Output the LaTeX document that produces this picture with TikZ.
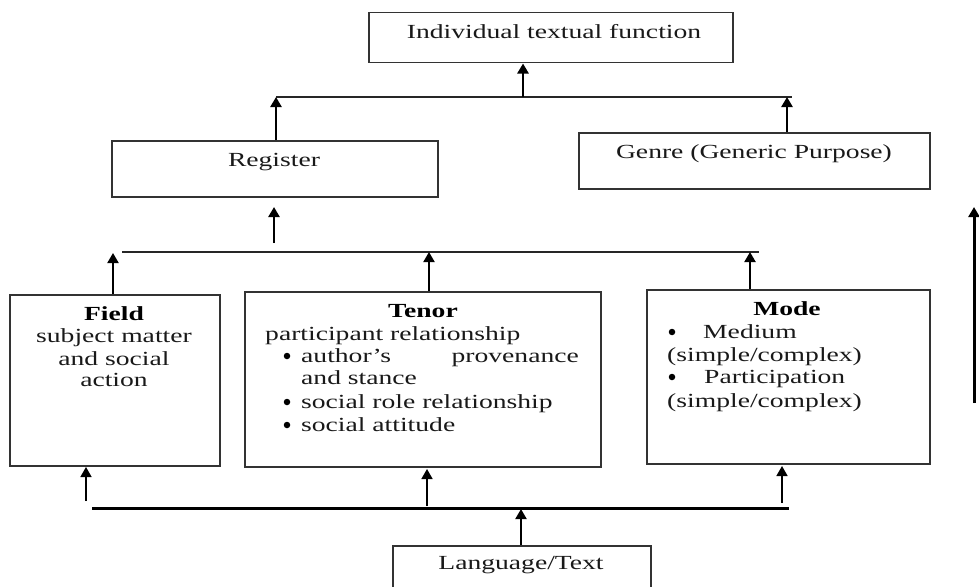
\documentclass[tikz,border=0pt]{standalone}
\usepackage{fontspec}
\setmainfont{Liberation Serif}[FakeStretch=1.38]
\usetikzlibrary{arrows.meta}
\begin{document}
\begin{tikzpicture}[x=1pt,y=-1pt,
  box/.style={draw=black!80, line width=1.5pt, rectangle, inner sep=0pt, anchor=north west},
  txt/.style={inner sep=0pt, text=black!90, font=\fontsize{20}{22}\selectfont},
  btxt/.style={inner sep=0pt, text=black, font=\fontsize{20}{22}\selectfont\bfseries},
  dot/.style={circle, fill=black, inner sep=0pt, minimum size=6.5pt},
  bar/.style={line width=1.2pt, draw=black!85},
  thickbar/.style={line width=3pt, draw=black},
  up/.style={-{Triangle[width=11pt,length=10pt]}, draw=black, fill=black},
  upthick/.style={up, line width=2.8pt},
  upmid/.style={up, line width=2pt},
  upthin/.style={up, line width=1.6pt}
]
\useasboundingbox (0,0) rectangle (979,586);

% boxes
\node[box, minimum width=364pt, minimum height=50pt] (itf) at (368,12) {};
\node[box, minimum width=326pt, minimum height=56pt] (reg) at (111,140) {};
\node[box, minimum width=351pt, minimum height=56pt] (gen) at (578,132) {};
\node[box, minimum width=210pt, minimum height=171pt] (fld) at (9,294) {};
\node[box, minimum width=356pt, minimum height=175pt] (ten) at (244,291) {};
\node[box, minimum width=283pt, minimum height=174pt] (mod) at (646,289) {};
\node[box, minimum width=258pt, minimum height=60pt] (lang) at (392,545) {};

% texts
\node[txt, anchor=base] (titf) at (554,38) {Individual textual function};
\node[txt, anchor=base] (treg) at (274,166) {Register};
\node[txt, anchor=base] (tgen) at (754,158) {Genre (Generic Purpose)};

\node[btxt, anchor=base] (tfld) at (114,320) {Field};
\node[txt, anchor=base] (tf1) at (114,342) {subject matter};
\node[txt, anchor=base] (tf2) at (114,365) {and social};
\node[txt, anchor=base] (tf3) at (114,386) {action};

\node[btxt, anchor=base] (tten) at (423,317) {Tenor};
\node[txt, anchor=base west] (tt1) at (265,340) {participant relationship};
\node[dot] (tb1) at (287,356) {};
\node[txt, anchor=base west] (tt2) at (301,362) {author’s};
\node[txt, anchor=base east] (tt3) at (579,362) {provenance};
\node[txt, anchor=base west] (tt4) at (301,384) {and stance};
\node[dot] (tb2) at (287,402) {};
\node[txt, anchor=base west] (tt5) at (301,408) {social role relationship};
\node[dot] (tb3) at (287,425) {};
\node[txt, anchor=base west] (tt6) at (301,431) {social attitude};

\node[btxt, anchor=base] (tmod) at (787,315) {Mode};
\node[dot] (mb1) at (672,332) {};
\node[txt, anchor=base west] (tm1) at (703,338) {Medium};
\node[txt, anchor=base west] (tm2) at (667,361) {(simple/complex)};
\node[dot] (mb2) at (672,377) {};
\node[txt, anchor=base west] (tm3) at (704,383) {Participation};
\node[txt, anchor=base west] (tm4) at (667,407) {(simple/complex)};

\node[txt, anchor=base] (tlang) at (521,569) {Language/Text};

% top bar
\coordinate (tl) at (276,97);
\coordinate (tr) at (792,97);
\coordinate (tc) at (523,97);
\coordinate (gj) at (787,97);
\draw[bar] (tl) -- (tr);
\draw[upthick] (tc) -- (tc |- itf.south);
\draw[upthick] (reg.north -| tl) -- (tl);
\draw[upthick] (gen.north -| gj) -- (gj);

% floating arrow below register
\coordinate (fa1) at (274,243);
\coordinate (fa2) at (274,207);
\draw[upthick] (fa1) -- (fa2);

% middle bar
\coordinate (ml) at (122,252);
\coordinate (mr) at (759,252);
\draw[bar] (ml) -- (mr);
\coordinate (mf) at (113,253);
\coordinate (mt) at (429,252);
\coordinate (mm) at (750,252);
\draw[upmid] (fld.north -| mf) -- (mf);
\draw[upmid] (ten.north -| mt) -- (mt);
\draw[upmid] (mod.north -| mm) -- (mm);

% bottom bar
\coordinate (bl) at (92,508);
\coordinate (br) at (789,508);
\draw[thickbar] (bl) -- (br);
\coordinate (bf1) at (86,501);
\coordinate (bt1) at (427,506);
\coordinate (bm1) at (782,503);
\coordinate (bf2) at (86,467);
\coordinate (bt2) at (427,469);
\coordinate (bm2) at (782,466);
\draw[upthin] (bf1) -- (bf2);
\draw[upthin] (bt1) -- (bt2);
\draw[upthin] (bm1) -- (bm2);
\coordinate (lj) at (521,509);
\draw[upmid] (lang.north -| lj) -- (lj);

% right-hand arrow
\coordinate (ra1) at (974,403);
\coordinate (ra2) at (974,207);
\draw[up, line width=3pt] (ra1) -- (ra2);
\end{tikzpicture}
\end{document}
